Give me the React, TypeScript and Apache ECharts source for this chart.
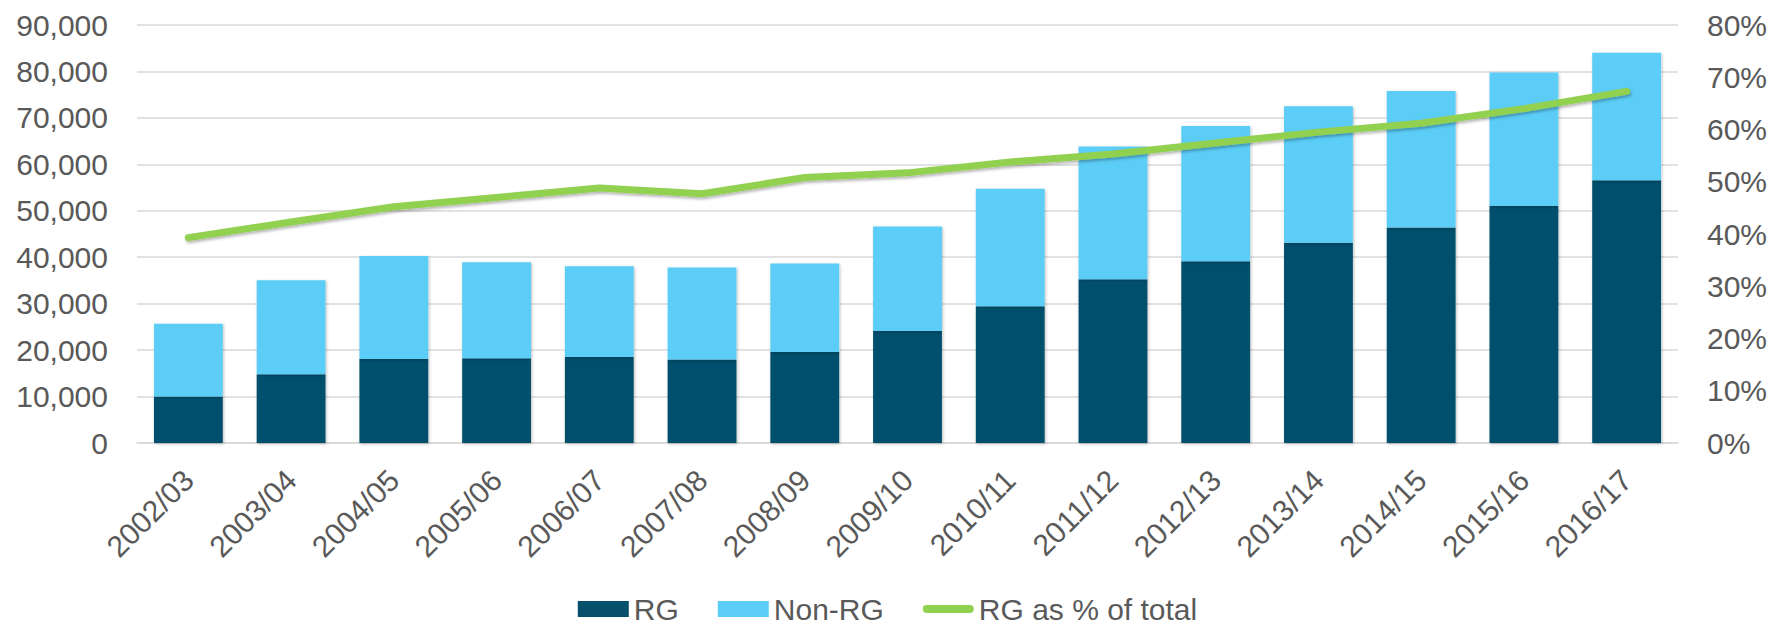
import React, { useEffect, useRef } from "react";
import * as echarts from "echarts";

const categories = [
  "2002/03", "2003/04", "2004/05", "2005/06", "2006/07", "2007/08", "2008/09", "2009/10",
  "2010/11", "2011/12", "2012/13", "2013/14", "2014/15", "2015/16", "2016/17",
];
const rgValues = [10000, 14800, 18100, 18250, 18500, 18000, 19600, 24100, 29450, 35250, 39150, 43100, 46400, 51050, 56550];
const nonRgValues = [15700, 20250, 22150, 20650, 19550, 19800, 19050, 22500, 25300, 28600, 29100, 29400, 29400, 28700, 27450];
const rgPercent = [39.3, 42.3, 45.2, 47.0, 48.8, 47.7, 50.8, 51.7, 53.8, 55.3, 57.4, 59.5, 61.2, 64.0, 67.3];

const FONT = "'Liberation Sans', Arial, sans-serif";
const TEXT = "#595959";

export default function App() {
  const ref = useRef<HTMLDivElement>(null);
  useEffect(() => {
    if (!ref.current) return;
    const chart = echarts.init(ref.current, null, { renderer: "svg" });
    const shadow = {
      shadowBlur: 3,
      shadowColor: "rgba(0,0,0,0.25)",
      shadowOffsetX: 1,
      shadowOffsetY: 1,
    };
    chart.setOption({
      animation: false,
      textStyle: { fontFamily: FONT },
      grid: { left: 137, right: 97, top: 25, bottom: 181, containLabel: false },
      legend: {
        left: "center",
        top: 594,
        padding: 0,
        itemWidth: 51,
        itemHeight: 16,
        itemGap: 39,
        textStyle: { fontSize: 30, lineHeight: 28, color: TEXT, fontFamily: FONT },
        data: [
          { name: "RG", icon: "rect" },
          { name: "Non-RG", icon: "rect" },
          {
            name: "RG as % of total",
            icon: "path://M4,0 H46 A4,4 0 0 1 46,8 H4 A4,4 0 0 1 4,0 Z",
          },
        ],
      },
      xAxis: {
        type: "category",
        data: categories,
        axisTick: { show: false },
        axisLine: { lineStyle: { color: "#d9d9d9", width: 1.5 } },
        axisLabel: {
          rotate: 45,
          fontSize: 30,
          color: TEXT,
          margin: 32,
          interval: 0,
        },
      },
      yAxis: [
        {
          type: "value",
          min: 0,
          max: 90000,
          interval: 10000,
          axisLabel: {
            fontSize: 30,
            color: TEXT,
            margin: 29,
            formatter: (v: number) => v.toLocaleString("en-US"),
          },
          splitLine: { lineStyle: { color: "#d9d9d9", width: 1.5 } },
          axisLine: { show: false },
          axisTick: { show: false },
        },
        {
          type: "value",
          min: 0,
          max: 80,
          interval: 10,
          position: "right",
          axisLabel: {
            fontSize: 30,
            color: TEXT,
            margin: 29,
            formatter: (v: number) => `${v}%`,
          },
          splitLine: { show: false },
          axisLine: { show: false },
          axisTick: { show: false },
        },
      ],
      series: [
        {
          name: "RG",
          type: "bar",
          stack: "total",
          data: rgValues,
          barCategoryGap: "33%",
          itemStyle: { color: "#06506c", ...shadow },
        },
        {
          name: "Non-RG",
          type: "bar",
          stack: "total",
          data: nonRgValues,
          barCategoryGap: "33%",
          itemStyle: { color: "#5bcdf7", ...shadow },
        },
        {
          name: "RG as % of total",
          type: "line",
          yAxisIndex: 1,
          data: rgPercent,
          symbol: "none",
          lineStyle: {
            color: "#92d050",
            width: 7,
            cap: "round",
            join: "round",
            shadowBlur: 3,
            shadowColor: "rgba(0,0,0,0.3)",
            shadowOffsetX: 1,
            shadowOffsetY: 2,
          },
          itemStyle: { color: "#92d050" },
          z: 5,
        },
      ],
    });
    return () => chart.dispose();
  }, []);
  return (
    <div
      ref={ref}
      style={{ position: "fixed", left: 0, top: 0, width: 1775, height: 624, background: "#fff" }}
    />
  );
}
